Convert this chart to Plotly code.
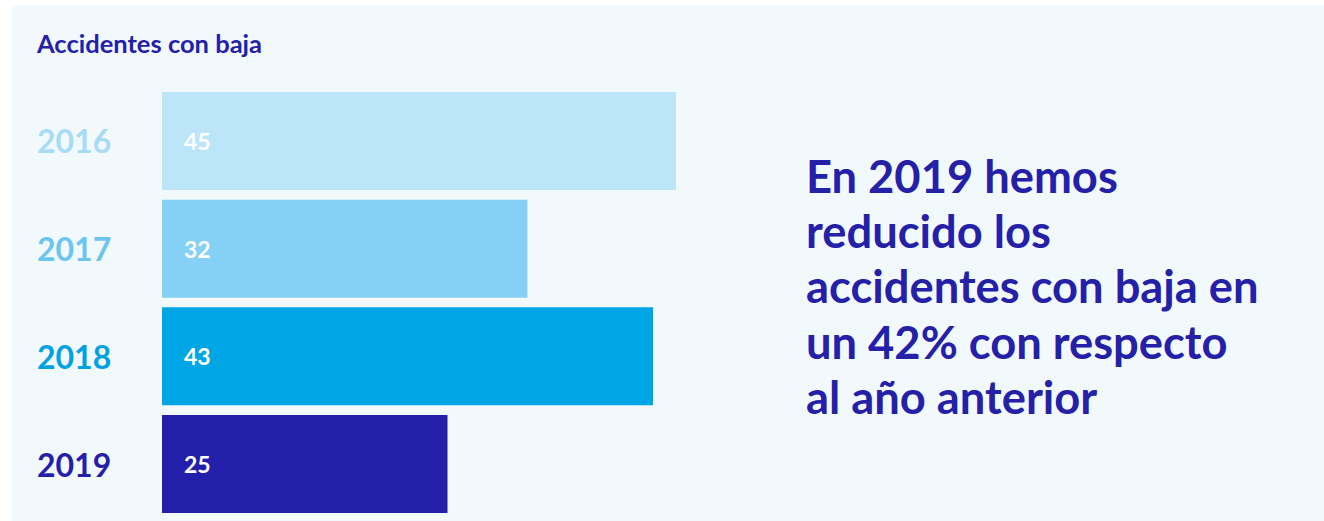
import plotly.graph_objects as go

years = ["2016", "2017", "2018", "2019"]
values = [45, 32, 43, 25]
bar_colors = ["#bde5fa", "#85d0f5", "#00a5e6", "#231fab"]
label_colors = ["#a8dcf5", "#6cc5ef", "#00a2e2", "#2420a8"]
title_text = "Accidentes con baja"
note_lines = ["En 2019 hemos", "reducido los", "accidentes con baja en",
              "un 42% con respecto", "al año anterior"]

W, H = 1324, 521
ML, MT, MB = 162, 92, 8
XMAX = 100
PX_PER_UNIT = 11.42
plot_w = XMAX * PX_PER_UNIT
MR = W - ML - plot_w
plot_h = H - MT - MB

def px_x(p):
    return (p - ML) / plot_w

def px_y(p):
    return (H - MB - p) / plot_h

FONT = "Lato, 'Open Sans', sans-serif"
NAVY = "#2420a8"
PANEL = "#f2f9fd"

fig = go.Figure()
fig.add_trace(go.Bar(
    y=years, x=values, orientation="h",
    marker=dict(color=bar_colors, line=dict(width=0)),
    width=0.91, hoverinfo="skip",
))

annotations = []
for i, (yr, v, c) in enumerate(zip(years, values, label_colors)):
    annotations.append(dict(
        x=px_x(35), xref="paper", y=i, yref="y", text=f"<b>{yr}</b>",
        showarrow=False, xanchor="left", yanchor="middle",
        font=dict(family=FONT, size=32, color=c),
    ))
    annotations.append(dict(
        x=0, xref="x", y=i, yref="y", text=f"<b>{v}</b>",
        showarrow=False, xanchor="left", yanchor="middle", xshift=20,
        font=dict(family=FONT, size=23, color="#ffffff"),
    ))

annotations.append(dict(
    x=px_x(34), xref="paper", y=px_y(43), yref="paper",
    text=f"<b>{title_text}</b>", showarrow=False,
    xanchor="left", yanchor="middle",
    font=dict(family=FONT, size=25.5, color=NAVY),
))
for k, line in enumerate(note_lines):
    annotations.append(dict(
        x=px_x(804), xref="paper", y=px_y(175 + 55.4 * k), yref="paper",
        text=f"<b>{line}</b>", showarrow=False,
        xanchor="left", yanchor="middle", align="left",
        font=dict(family=FONT, size=45.3, color=NAVY),
    ))

fig.update_layout(
    width=W, height=H,
    margin=dict(l=ML, r=MR, t=MT, b=MB, pad=0),
    paper_bgcolor=PANEL, plot_bgcolor="rgba(0,0,0,0)",
    showlegend=False,
    xaxis=dict(range=[0, XMAX], visible=False, fixedrange=True),
    yaxis=dict(type="category", range=[3.455, -0.455], visible=False,
               fixedrange=True, categoryorder="array", categoryarray=years),
    shapes=[
        dict(type="rect", xref="paper", yref="paper",
             x0=px_x(-5), x1=px_x(W + 5), y0=px_y(5), y1=px_y(-5),
             fillcolor="#ffffff", line=dict(width=0), layer="below"),
        dict(type="rect", xref="paper", yref="paper",
             x0=px_x(-5), x1=px_x(12), y0=px_y(H + 5), y1=px_y(-5),
             fillcolor="#ffffff", line=dict(width=0), layer="below"),
    ],
    annotations=annotations,
)

fig.write_html("out.html", config={"displayModeBar": False},
               post_script="document.body.style.margin='0';")
